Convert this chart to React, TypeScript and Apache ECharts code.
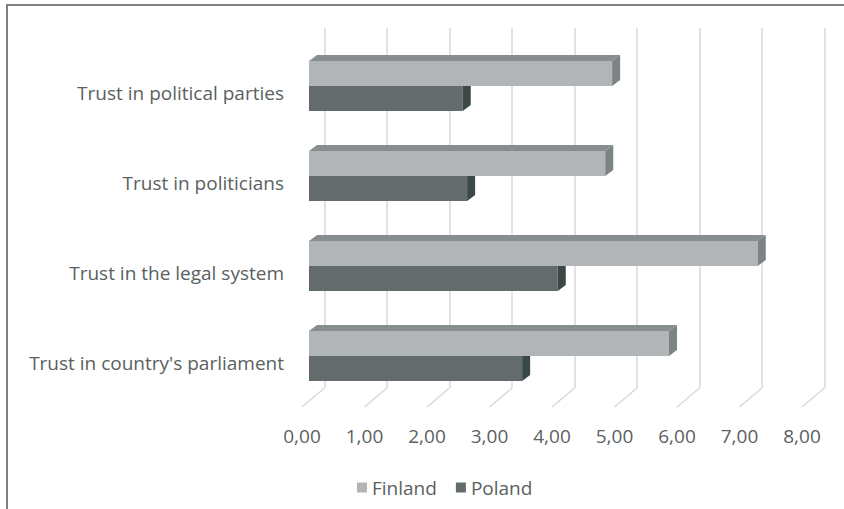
import React, { useEffect, useRef } from "react";
import * as echarts from "echarts";

const categories = [
  "Trust in country's parliament",
  "Trust in the legal system",
  "Trust in politicians",
  "Trust in political parties",
];
const finland = [5.76, 7.18, 4.74, 4.85];
const poland = [3.41, 3.98, 2.53, 2.46];
const xTicks = [0, 1, 2, 3, 4, 5, 6, 7, 8];
const seriesNames = ["Finland", "Poland"];

const FONT = "'Open Sans', Lato, sans-serif";
const TEXT = "#5a5f61";
const GRID = "#d9d9d9";

const finlandColors = { front: "#b1b5b7", top: "#888e90", side: "#7b8385" };
const polandColors = { front: "#646b6d", top: "#4c5657", side: "#3b4848" };

export default function App() {
  const ref = useRef<HTMLDivElement>(null);
  useEffect(() => {
    const chart = echarts.init(ref.current!, null, { renderer: "svg" });
    const DX = 8;
    const DY = 6;
    const BAR_H = 25;
    const FLOOR_DX = 22.5;
    const FLOOR_DY = 19;

    const makeBarSeries = (name: string, data: number[], colors: any, above: boolean) => ({
      type: "custom",
      name,
      xAxisIndex: 2,
      yAxisIndex: 2,
      data: data.map((v, i) => [v, i]),
      itemStyle: { color: colors.front },
      renderItem: (params: any, api: any) => {
        const v = api.value(0);
        const c = api.value(1);
        const start = api.coord([0, c]);
        const end = api.coord([v, c]);
        const y0 = above ? start[1] - BAR_H : start[1];
        const y1 = y0 + BAR_H;
        const x0 = start[0];
        const x1 = end[0];
        return {
          type: "group",
          children: [
            {
              type: "rect",
              shape: { x: x0, y: y0, width: x1 - x0, height: BAR_H },
              style: { fill: colors.front },
            },
            {
              type: "polygon",
              shape: { points: [[x0, y0], [x0 + DX, y0 - DY], [x1 + DX, y0 - DY], [x1, y0]] },
              style: { fill: colors.top },
            },
            {
              type: "polygon",
              shape: { points: [[x1, y0], [x1 + DX, y0 - DY], [x1 + DX, y1 - DY], [x1, y1]] },
              style: { fill: colors.side },
            },
          ],
        };
      },
    });

    const option: any = {
      animation: false,
      backgroundColor: "#ffffff",
      textStyle: { fontFamily: FONT },
      graphic: [
        {
          type: "rect",
          shape: { x: 7, y: 5, width: 900, height: 600 },
          style: { fill: "none", stroke: "#808080", lineWidth: 2 },
          z: 100,
        },
      ],
      legend: {
        data: seriesNames,
        left: 352,
        top: 473,
        icon: "rect",
        itemWidth: 10,
        itemHeight: 10,
        itemGap: 19,
        textStyle: { fontSize: 19, color: TEXT, fontFamily: FONT },
      },
      grid: [
        { left: 302, top: 48, width: 500, height: 360, outerBoundsMode: "none" },
        { left: 324.5, top: 28, width: 500, height: 360, outerBoundsMode: "none" },
        { left: 309, top: 41, width: 500, height: 360, outerBoundsMode: "none" },
      ],
      xAxis: [
        {
          gridIndex: 0,
          type: "value",
          min: 0,
          max: 8,
          interval: 1,
          axisLine: { show: false },
          axisTick: { show: false },
          splitLine: { show: false },
          axisLabel: {
            margin: 18,
            fontSize: 19,
            color: TEXT,
            fontFamily: FONT,
            formatter: (v: number) => v.toFixed(2).replace(".", ","),
          },
        },
        {
          gridIndex: 1,
          type: "value",
          min: 0,
          max: 8,
          interval: 1,
          axisLine: { show: false },
          axisTick: { show: false },
          axisLabel: { show: false },
          splitLine: { show: true, lineStyle: { color: GRID, width: 1.5 } },
        },
        {
          gridIndex: 2,
          type: "value",
          min: 0,
          max: 8,
          interval: 1,
          show: false,
        },
      ],
      yAxis: [
        {
          gridIndex: 0,
          type: "category",
          data: categories,
          axisLine: { show: false },
          axisTick: { show: false },
          splitLine: { show: false },
          axisLabel: { margin: 18, fontSize: 19, color: TEXT, fontFamily: FONT },
        },
        {
          gridIndex: 1,
          type: "category",
          data: categories,
          show: false,
        },
        {
          gridIndex: 2,
          type: "category",
          data: categories,
          show: false,
        },
      ],
      series: [
        {
          type: "custom",
          name: "floor",
          xAxisIndex: 1,
          yAxisIndex: 1,
          data: xTicks.map((v) => [v, 0]),
          silent: true,
          renderItem: (params: any, api: any) => {
            const p = api.coord([api.value(0), 0]);
            const bottom = params.coordSys.y + params.coordSys.height;
            return {
              type: "line",
              shape: { x1: p[0], y1: bottom, x2: p[0] - FLOOR_DX, y2: bottom + FLOOR_DY },
              style: { stroke: GRID, lineWidth: 1.5 },
            };
          },
        },
        makeBarSeries("Poland", poland, polandColors, false),
        makeBarSeries("Finland", finland, finlandColors, true),
      ],
    };
    chart.setOption(option);
    return () => chart.dispose();
  }, []);
  return (
    <div
      ref={ref}
      style={{ position: "absolute", left: 0, top: 0, width: 844, height: 509 }}
    />
  );
}
